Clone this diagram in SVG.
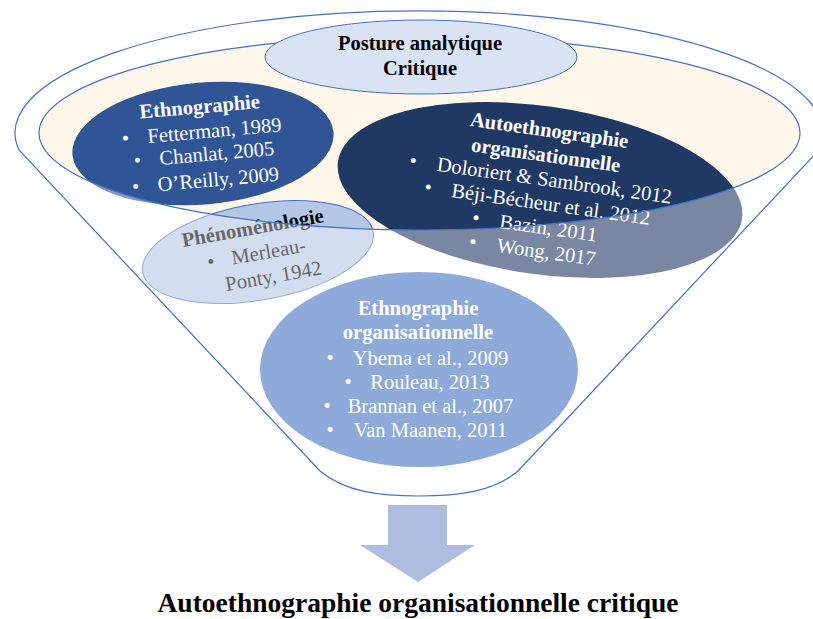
<svg xmlns="http://www.w3.org/2000/svg" width="813" height="619" viewBox="0 0 813 619">
<style>
text{font-family:"Liberation Serif","Times New Roman",serif;font-size:20.5px}
.b{font-weight:bold}
.w{fill:#ffffff}
.k{fill:#000000}
.m{text-anchor:middle}
.line{fill:none;stroke:#4472C4;stroke-width:1.2}
</style>
<rect width="813" height="619" fill="#ffffff"/>
<!-- rim fill -->
<ellipse id="rim-fill" cx="419.5" cy="133" rx="380.5" ry="97" fill="#FEF7EA"/>

<g id="ethnographie">
<ellipse cx="203" cy="143.5" rx="131" ry="61" transform="rotate(-5 203 143.5)" fill="#2F5597"/>
<g transform="rotate(-5 205 145)" class="w">
<text class="b m" x="203" y="113">Ethnographie</text>
<text class="m" x="126.5" y="138">•</text><text x="148.5" y="138">Fetterman, 1989</text>
<text class="m" x="136.5" y="161">•</text><text x="158.5" y="161">Chanlat, 2005</text>
<text class="m" x="132.5" y="187">•</text><text x="154.5" y="187">O’Reilly, 2009</text>
</g>
</g>

<g id="autoethnographie">
<ellipse cx="540" cy="190" rx="204" ry="84" transform="rotate(8 540 190)" fill="#203864"/>
<g transform="rotate(8 545 190)" class="w">
<text class="b m" x="541" y="137">Autoethnographie</text>
<text class="b m" x="541" y="162">organisationnelle</text>
<text class="m" x="410.5" y="186">•</text><text x="434.5" y="186">Doloriert &amp; Sambrook, 2012</text>
<text class="m" x="429" y="210">•</text><text x="452.7" y="210">Béji-Bécheur et al. 2012</text>
<text class="m" x="480.5" y="234">•</text><text x="504.5" y="234">Bazin, 2011</text>
<text class="m" x="481" y="258">•</text><text x="505" y="258">Wong, 2017</text>
</g>
</g>

<g id="phenomenologie">
<ellipse cx="258" cy="252" rx="117" ry="48" transform="rotate(-10 258 252)" fill="#B4C7E7" stroke="#4472C4" stroke-width="1"/>
<g transform="rotate(-10 258 252)" class="k">
<text class="b m" x="257" y="234">Phénoménologie</text>
<text class="m" x="210" y="260">•</text><text x="231" y="260">Merleau-</text>
<text class="m" x="269" y="285">Ponty, 1942</text>
</g>
</g>

<g id="ethnographie-organisationnelle">
<ellipse cx="419" cy="369.5" rx="159" ry="97.5" fill="#4472C4"/>
<g class="w">
<text class="b m" x="418" y="315">Ethnographie</text>
<text class="b m" x="418" y="339">organisationnelle</text>
<text class="m" x="330" y="365">•</text><text class="m" x="430.5" y="365">Ybema et al., 2009</text>
<text class="m" x="348" y="389">•</text><text class="m" x="430" y="389">Rouleau, 2013</text>
<text class="m" x="327" y="413">•</text><text class="m" x="430.5" y="413">Brannan et al., 2007</text>
<text class="m" x="330" y="437">•</text><text class="m" x="430.5" y="437">Van Maanen, 2011</text>
</g>
</g>

<g id="funnel">
<path d="M19,150 A404,122 0 1 1 819,150 L518,471 C493,492 458,496 419,496 C380,496 345,492 320,471 Z M39,133 A380.5,97 0 1 0 800,133 A380.5,97 0 1 0 39,133 Z" fill="#ffffff" fill-opacity="0.4" fill-rule="evenodd"/>
<path class="line" d="M19,150 A404,122 0 1 1 819,150 L518,471 C493,492 458,496 419,496 C380,496 345,492 320,471 Z"/>
<ellipse class="line" cx="419.5" cy="133" rx="380.5" ry="97"/>
</g>

<g id="posture">
<ellipse cx="421" cy="57" rx="156" ry="37" fill="#DAE3F3" stroke="#4472C4" stroke-width="1"/>
<text class="b m k" x="420" y="50">Posture analytique</text>
<text class="b m k" x="420" y="75">Critique</text>
</g>

<g id="connectors">
<path d="M388,505 H447 V545 H475 L418,582 L360,545 H388 Z" fill="#AEBCE0"/>
</g>

<g id="result">
<text class="b m k" x="418" y="612" style="font-size:27.5px">Autoethnographie organisationnelle critique</text>
</g>
</svg>
